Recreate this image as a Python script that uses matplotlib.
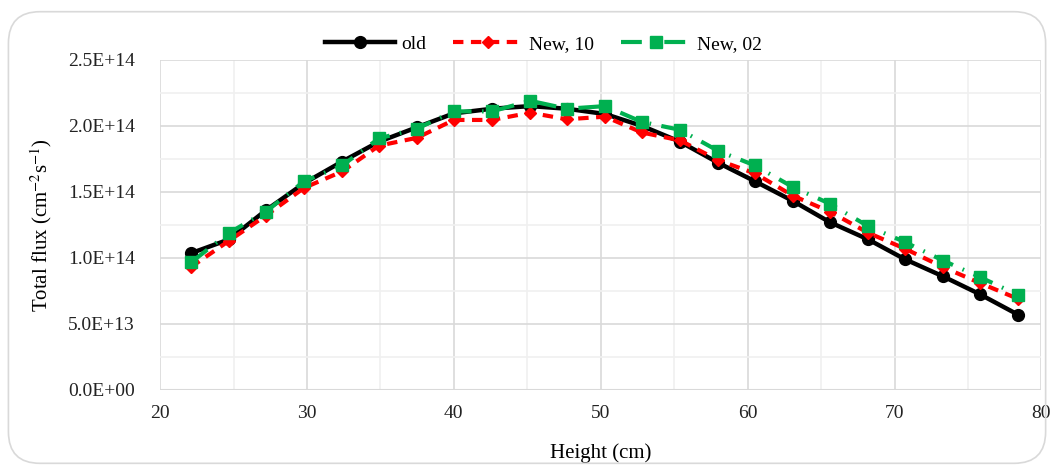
import numpy as np
import matplotlib
matplotlib.use("Agg")
import matplotlib.pyplot as plt
from matplotlib.patches import FancyBboxPatch
from matplotlib.ticker import MultipleLocator, FuncFormatter

# data
height = [22.1, 24.7, 27.2, 29.8, 32.4, 34.9, 37.5, 40.0, 42.6, 45.2, 47.7, 50.3,
          52.8, 55.4, 58.0, 60.5, 63.1, 65.6, 68.2, 70.7, 73.3, 75.8, 78.4]
old = [1.035, 1.14, 1.36, 1.565, 1.73, 1.88, 1.99, 2.095, 2.13, 2.15, 2.13, 2.09,
       2.00, 1.88, 1.72, 1.58, 1.43, 1.27, 1.14, 0.99, 0.86, 0.725, 0.57]
new10 = [0.93, 1.13, 1.32, 1.53, 1.655, 1.85, 1.91, 2.045, 2.045, 2.10, 2.05, 2.07,
         1.95, 1.89, 1.74, 1.64, 1.47, 1.35, 1.19, 1.07, 0.93, 0.81, 0.69]
new02 = [0.965, 1.19, 1.35, 1.58, 1.70, 1.905, 1.98, 2.11, 2.11, 2.19, 2.13, 2.15,
         2.03, 1.97, 1.81, 1.70, 1.535, 1.41, 1.24, 1.12, 0.98, 0.855, 0.72]
scale = 1e14

plt.rcParams['font.family'] = ['Liberation Serif', 'DejaVu Serif']
plt.rcParams['mathtext.fontset'] = 'stix'

fig = plt.figure(figsize=(10.53, 4.68), dpi=100)
ax = fig.add_axes([0.152, 0.167, 0.837, 0.705])

# rounded chart border
fig.patches.append(FancyBboxPatch((0.008, 0.01), 0.985, 0.965, boxstyle="round,pad=0,rounding_size=0.03",
                                  transform=fig.transFigure, facecolor="none",
                                  edgecolor="#d9d9d9", linewidth=1.2, mutation_aspect=2.25))

y_old = np.array(old) * scale
y_n10 = np.array(new10) * scale
y_n02 = np.array(new02) * scale

ax.plot(height, y_old, color="black", lw=3.2, marker="o", ms=8.5, label="old", zorder=3)
ax.plot(height, y_n10, color="#ff0000", lw=3, ls=(0, (2.5, 1.8)), marker="D", ms=6,
        label="New, 10", zorder=4)
ax.plot(height, y_n02, color="#00b050", lw=3, ls=(0, (5, 2.5, 0.4, 2.5)), marker="s", ms=8.5,
        label="New, 02", zorder=5)

ax.set_xlim(20, 80)
ax.set_ylim(0, 2.5e14)
ax.xaxis.set_major_locator(MultipleLocator(10))
ax.xaxis.set_minor_locator(MultipleLocator(5))
ax.yaxis.set_major_locator(MultipleLocator(0.5e14))
ax.yaxis.set_minor_locator(MultipleLocator(0.25e14))
ax.yaxis.set_major_formatter(FuncFormatter(lambda v, p: "{:.1E}".format(v)))

ax.grid(which="major", color="#d9d9d9", lw=1.2)
ax.grid(which="minor", color="#f0f0f0", lw=1.2)
ax.set_axisbelow(True)
for s in ax.spines.values():
    s.set_visible(False)
ax.axhline(0, color="#d9d9d9", lw=1.5, zorder=1)
ax.tick_params(axis="y", which="both", length=0, labelsize=14, colors="#222222", pad=18)
ax.tick_params(axis="x", which="both", length=0, labelsize=14, colors="#222222", pad=11)

ax.set_xlabel("Height (cm)", fontsize=15, labelpad=15)
ax.set_ylabel("Total flux (cm$^{-2}$s$^{-1}$)", fontsize=15, labelpad=10)

ax.legend(loc="lower center", bbox_to_anchor=(0.435, 0.967), ncol=3, frameon=False,
          fontsize=14, handlelength=3.6, columnspacing=1.4, handletextpad=0.3)

fig.savefig("out.png", dpi=100)
